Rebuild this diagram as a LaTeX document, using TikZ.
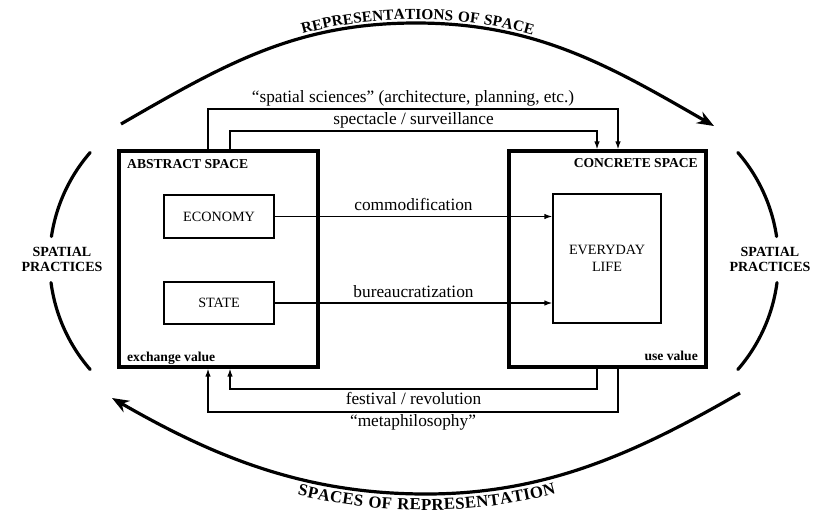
\documentclass[tikz,border=0pt]{standalone}
\usepackage{fontspec}
\setmainfont{Liberation Serif}
\usetikzlibrary{arrows.meta,decorations.text,calc}
\newcommand\toparcfont{\bfseries\fontsize{15.3}{16}\selectfont\addfontfeature{LetterSpace=5}}
\newcommand\botarcfont{\bfseries\fontsize{16.8}{17}\selectfont\addfontfeature{LetterSpace=5}}
\begin{document}
\begin{tikzpicture}[x=1pt,y=-1pt,
  bigbox/.style={draw, line width=3.2pt, minimum height=216pt, inner sep=0pt},
  smallbox/.style={draw, line width=1.3pt, inner sep=0pt, font=\fontsize{14.2}{17}\selectfont, align=center},
  boxtitle/.style={font=\bfseries\fontsize{13.6}{14}\selectfont, inner sep=0pt},
  conn/.style={line width=1.3pt, -{Latex[length=8pt,width=5.5pt]}},
  edgelabel/.style={font=\fontsize{17.3}{18}\selectfont, inner sep=0pt},
  bigarc/.style={line width=3.2pt},
  sidelabel/.style={font=\bfseries\fontsize{14}{15}\selectfont, align=center, inner sep=0pt}
]
\useasboundingbox (0,0) rectangle (826,517);

% boxes
\node[bigbox, minimum width=199pt] (abs) at (218.5,259) {};
\node[bigbox, minimum width=197pt] (conc) at (607.5,259) {};
\node[smallbox, minimum width=110pt, minimum height=43pt] (econ) at (219,216.5) {ECONOMY};
\node[smallbox, minimum width=110pt, minimum height=42pt] (state) at (219,303) {STATE};
\node[smallbox, minimum width=108pt, minimum height=129pt] (life) at (607,258.5) {EVERYDAY\\LIFE};

% box titles
\node[boxtitle, anchor=base west] (abst) at (127,168) {ABSTRACT SPACE};
\node[boxtitle, anchor=base east] (conct) at (698,167) {CONCRETE SPACE};
\node[boxtitle, anchor=base west] (exv) at (127,361) {exchange value};
\node[boxtitle, anchor=base east] (usev) at (698,360) {use value};

% horizontal connectors
\draw[conn] (econ.east) -- (econ.east -| life.west)
  node[edgelabel, midway, anchor=base, yshift=6pt] {commodification};
\draw[conn] (state.east) -- (state.east -| life.west)
  node[edgelabel, midway, anchor=base, yshift=6pt] {bureaucratization};

% top connectors
\draw[conn] ([xshift=90.6pt]abs.north west) -- ++(0,-40.4) -| ([xshift=-89.6pt]conc.north east)
  node[edgelabel, pos=0.25, anchor=base, yshift=7pt] {“spatial sciences” (architecture, planning, etc.)};
\draw[conn] ([xshift=112.6pt]abs.north west) -- ++(0,-18.4) -| ([xshift=-110.6pt]conc.north east)
  node[edgelabel, pos=0.25, anchor=base, yshift=7pt] {spectacle / surveillance};

% bottom connectors
\draw[conn] ([xshift=-110.6pt]conc.south east) -- ++(0,20.4) -| ([xshift=112.6pt]abs.south west)
  node[edgelabel, pos=0.25, anchor=base, yshift=-15pt] {festival / revolution};
\draw[conn] ([xshift=-89.6pt]conc.south east) -- ++(0,43.4) -| ([xshift=90.6pt]abs.south west)
  node[edgelabel, pos=0.25, anchor=base, yshift=-14.5pt] {“metaphilosophy”};

% side labels
\node[sidelabel] (spl) at (62,259) {SPATIAL\\PRACTICES};
\node[sidelabel] (spr) at (770,259) {SPATIAL\\PRACTICES};

% big arcs
\draw[bigarc, -{Stealth[length=17pt,width=13pt]}]
  (121,124) .. controls (225,64) and (296,23) .. (416,23)
  .. controls (536,23) and (610,66) .. (714,126);
\draw[bigarc, -{Stealth[length=17pt,width=13pt]}]
  (740,393) .. controls (636,453) and (546,494) .. (426,494)
  .. controls (306,494) and (216,458) .. (112,398);

% side arcs
\draw[bigarc, line cap=round] plot[domain=188.5:221, samples=40, variable=\t] ({215+165.4*cos(\t)}, {261+165.4*sin(\t)});
\draw[bigarc, line cap=round] plot[domain=139:172.5, samples=40, variable=\t] ({215+165.4*cos(\t)}, {261+165.4*sin(\t)});
\draw[bigarc, line cap=round] plot[domain=-41:-8.5, samples=40, variable=\t] ({613+165.4*cos(\t)}, {261+165.4*sin(\t)});
\draw[bigarc, line cap=round] plot[domain=7.5:41, samples=40, variable=\t] ({613+165.4*cos(\t)}, {261+165.4*sin(\t)});

% arc texts
\path[decorate, decoration={text along path, text align=center, raise=3.5pt,
    text={|\toparcfont|REPRESENTATIONS OF SPACE}}]
  (121,124) .. controls (225,64) and (296,23) .. (416,23)
  .. controls (536,23) and (610,66) .. (714,126);
\path[decorate, decoration={text along path, text align=center, raise=-16pt,
    text={|\botarcfont|SPACES OF REPRESENTATION}}]
  (112,398) .. controls (216,458) and (306,494) .. (426,494)
  .. controls (546,494) and (636,453) .. (740,393);
\end{tikzpicture}
\end{document}
